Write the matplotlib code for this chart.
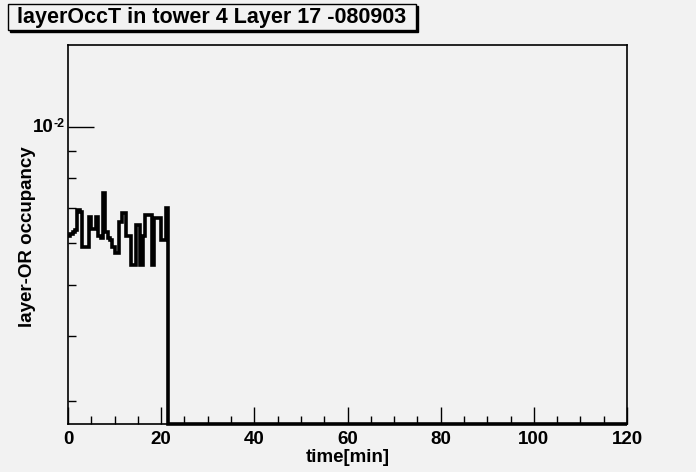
import numpy as np
import matplotlib
matplotlib.use("Agg")
import matplotlib.pyplot as plt
from matplotlib.ticker import NullFormatter, FixedLocator, MultipleLocator
from matplotlib.patches import Rectangle

# layer-OR occupancy per 0.5 min bin (only the first 43 bins are filled)
bin_width = 0.5
n_bins = 240
occupancy = [6.20e-3, 6.25e-3, 6.30e-3, 6.35e-3, 6.95e-3, 6.90e-3, 5.90e-3, 5.91e-3,
             5.91e-3, 6.75e-3, 6.40e-3, 6.40e-3, 6.75e-3, 6.20e-3, 6.15e-3, 7.50e-3,
             6.30e-3, 6.15e-3, 6.10e-3, 5.90e-3, 5.75e-3, 5.75e-3, 6.60e-3, 6.86e-3,
             6.86e-3, 6.20e-3, 6.20e-3, 5.45e-3, 5.45e-3, 6.50e-3, 6.50e-3, 5.45e-3,
             6.20e-3, 6.80e-3, 6.80e-3, 6.80e-3, 5.45e-3, 6.70e-3, 6.70e-3, 6.70e-3,
             6.10e-3, 6.10e-3, 7.00e-3]
values = np.zeros(n_bins)
values[:len(occupancy)] = occupancy
edges = np.arange(n_bins + 1) * bin_width

title = "layerOccT in tower 4 Layer 17 -080903"
xlabel = "time[min]"
ylabel = "layer-OR occupancy"
ymin, ymax = 0.00271, 0.01436

bg = "#f2f2f2"
plt.rcParams['font.family'] = ['Liberation Sans', 'DejaVu Sans']

fig = plt.figure(figsize=(6.96, 4.72), dpi=100, facecolor=bg)
ax = fig.add_axes([68 / 696, 1 - 424 / 472, (627 - 68) / 696, (424 - 45) / 472])
ax.set_facecolor(bg)

# zero bins sit on the bottom of the log axis, like ROOT draws them
shown = np.where(values > 0, values, ymin)
ax.stairs(shown, edges, color="black", linewidth=2.6, baseline=None, clip_on=False)

ax.set_yscale("log")
ax.set_xlim(0, 120)
ax.set_ylim(ymin, ymax)

ax.xaxis.set_major_locator(MultipleLocator(20))
ax.xaxis.set_minor_locator(MultipleLocator(5))
ax.yaxis.set_major_locator(FixedLocator([1e-2]))
ax.yaxis.set_minor_locator(FixedLocator([3e-3, 4e-3, 5e-3, 6e-3, 7e-3, 8e-3, 9e-3]))
ax.yaxis.set_minor_formatter(NullFormatter())
ax.set_yticklabels([""])

ax.tick_params(axis="both", which="major", direction="in", length=12, width=1,
               labelsize=13.5, colors="black")
ax.tick_params(axis="both", which="minor", direction="in", length=6, width=1)
ax.tick_params(axis="y", which="major", length=19, pad=3)
ax.tick_params(axis="x", which="major", pad=5)
for lbl in ax.get_xticklabels():
    lbl.set_fontweight("bold")
for s in ax.spines.values():
    s.set_linewidth(1.2)

# ROOT style 10^-2 label: base plus raised exponent
ylab_tr = ax.get_yaxis_transform()
ax.text(-0.026, 1e-2, "10", transform=ylab_tr, fontsize=13.5, fontweight="bold",
        ha="right", va="center")
ax.text(-0.026, 0.99e-2, "-2", transform=ylab_tr, fontsize=9, fontweight="bold",
        ha="left", va="bottom")

ax.set_xlabel(xlabel, fontsize=13.5, fontweight="bold", labelpad=1)
fig.text(28 / 696, 1 - 237 / 472, ylabel, fontsize=13.5, fontweight="bold",
         rotation=90, ha="center", va="center")

# title box with shadow
fig.patches.append(Rectangle((10 / 696, 1 - 32 / 472), 408 / 696, 26 / 472,
                             transform=fig.transFigure, facecolor="black",
                             edgecolor="black", zorder=1))
fig.patches.append(Rectangle((8 / 696, 1 - 30 / 472), 408 / 696, 26 / 472,
                             transform=fig.transFigure, facecolor=bg,
                             edgecolor="black", linewidth=1, zorder=2))
fig.text(212 / 696, 1 - 17.5 / 472, title, fontsize=15.5, fontweight="bold",
         ha="center", va="center", zorder=3)

fig.savefig("out.png", dpi=100, facecolor=bg)
